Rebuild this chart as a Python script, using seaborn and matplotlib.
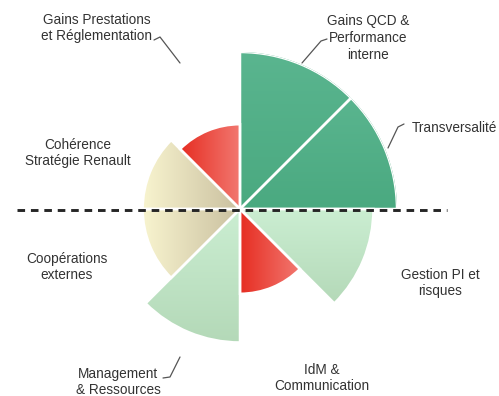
import numpy as np
import matplotlib
matplotlib.use("Agg")
import matplotlib.pyplot as plt
from matplotlib.transforms import TransformedPatchPath
import seaborn as sns

# Data: 8 axes of evaluation, clockwise from north
categories = [
    "Gains QCD &\nPerformance\ninterne",
    "Transversalité",
    "Gestion PI et\nrisques",
    "IdM &\nCommunication",
    "Management\n& Ressources",
    "Coopérations\nexternes",
    "Cohérence\nStratégie Renault",
    "Gains Prestations\net Réglementation",
]
scores = [10, 10, 8.5, 5.4, 8.5, 6.2, 6.2, 5.4]
levels = ["fort", "fort", "moyen", "faible", "moyen", "neutre", "neutre", "faible"]

# colour ramps per level: (start, end, direction)
ramps = {
    "fort": ("#4aa980", "#5ab58f", "v"),
    "moyen": ("#b4d9b8", "#cbeed2", "v"),
    "faible": ("#e62d22", "#f27870", "h"),
    "neutre": ("#f8f4cf", "#c9bf9f", "h"),
}

W, H, DPI = 499, 396, 100

sns.set_theme(style="white")
plt.rcParams["font.family"] = ["Liberation Sans", "DejaVu Sans"]

fig = plt.figure(figsize=(W / DPI, H / DPI), dpi=DPI)

# background axes for gradient fills (pixel coordinates)
ax_bg = fig.add_axes([0, 0, 1, 1], zorder=0)
ax_bg.axis("off")

# polar axes, centre at (240, 209) px, rmax = 157 px
cx, cy, R = 240, 209, 157
ax = fig.add_axes([(cx - R) / W, (H - cy - R) / H, 2 * R / W, 2 * R / H],
                  projection="polar", zorder=1)
ax.set_theta_zero_location("N")
ax.set_theta_direction(-1)
ax.patch.set_alpha(0)

n = len(categories)
width = 2 * np.pi / n
theta = np.arange(n) * width + width / 2
bars = ax.bar(theta, scores, width=width, align="center",
              facecolor="none", edgecolor="white", linewidth=1.8)
ax.set_ylim(0, 10)
ax.set_xticks([])
ax.set_yticks([])
ax.grid(False)
ax.spines["polar"].set_visible(False)

fig.canvas.draw()

# gradient fills clipped to each wedge
grad = np.linspace(0, 1, 256)
for bar, lvl in zip(bars, levels):
    c0, c1, d = ramps[lvl]
    cmap = sns.blend_palette([c0, c1], as_cmap=True)
    bb = bar.get_window_extent()
    img = grad[None, :] if d == "h" else grad[:, None]
    im = ax_bg.imshow(img, cmap=cmap, extent=(bb.x0, bb.x1, bb.y0, bb.y1),
                      origin="lower", aspect="auto", interpolation="bilinear")
    im.set_clip_path(TransformedPatchPath(bar))
ax_bg.set_xlim(0, W)
ax_bg.set_ylim(0, H)

# top layer: dashed line, labels, leader lines (pixel coords from top)
ax_top = fig.add_axes([0, 0, 1, 1], zorder=2)
ax_top.set_xlim(0, W)
ax_top.set_ylim(H, 0)
ax_top.axis("off")
ax_top.patch.set_alpha(0)

ax_top.plot([17, 447], [cy + 1, cy + 1], color="#262626", lw=2.1,
            dashes=(2.6, 2.0))

txt = dict(fontsize=9.8, color="#333333", ha="center", va="center",
           multialignment="center", linespacing=1.25)
label_pos = [(368, 38, "center"), (412, 128, "left"), (440, 283, "center"),
             (322, 378, "center"), (118, 382, "center"), (67, 267, "center"),
             (78, 153, "center"), (97, 28, "center")]
for lab, (x, y, ha) in zip(categories, label_pos):
    ax_top.text(x, y, lab, **{**txt, "ha": ha})

leaders = [
    ([327, 321, 302], [39, 41, 63]),
    ([404, 398, 388], [124, 127, 148]),
    ([163, 170, 180], [378, 377, 357]),
    ([154, 160, 180], [40, 37, 63]),
]
for xs, ys in leaders:
    ax_top.plot(xs, ys, color="#555555", lw=0.9)

fig.savefig("out.png", dpi=DPI)
